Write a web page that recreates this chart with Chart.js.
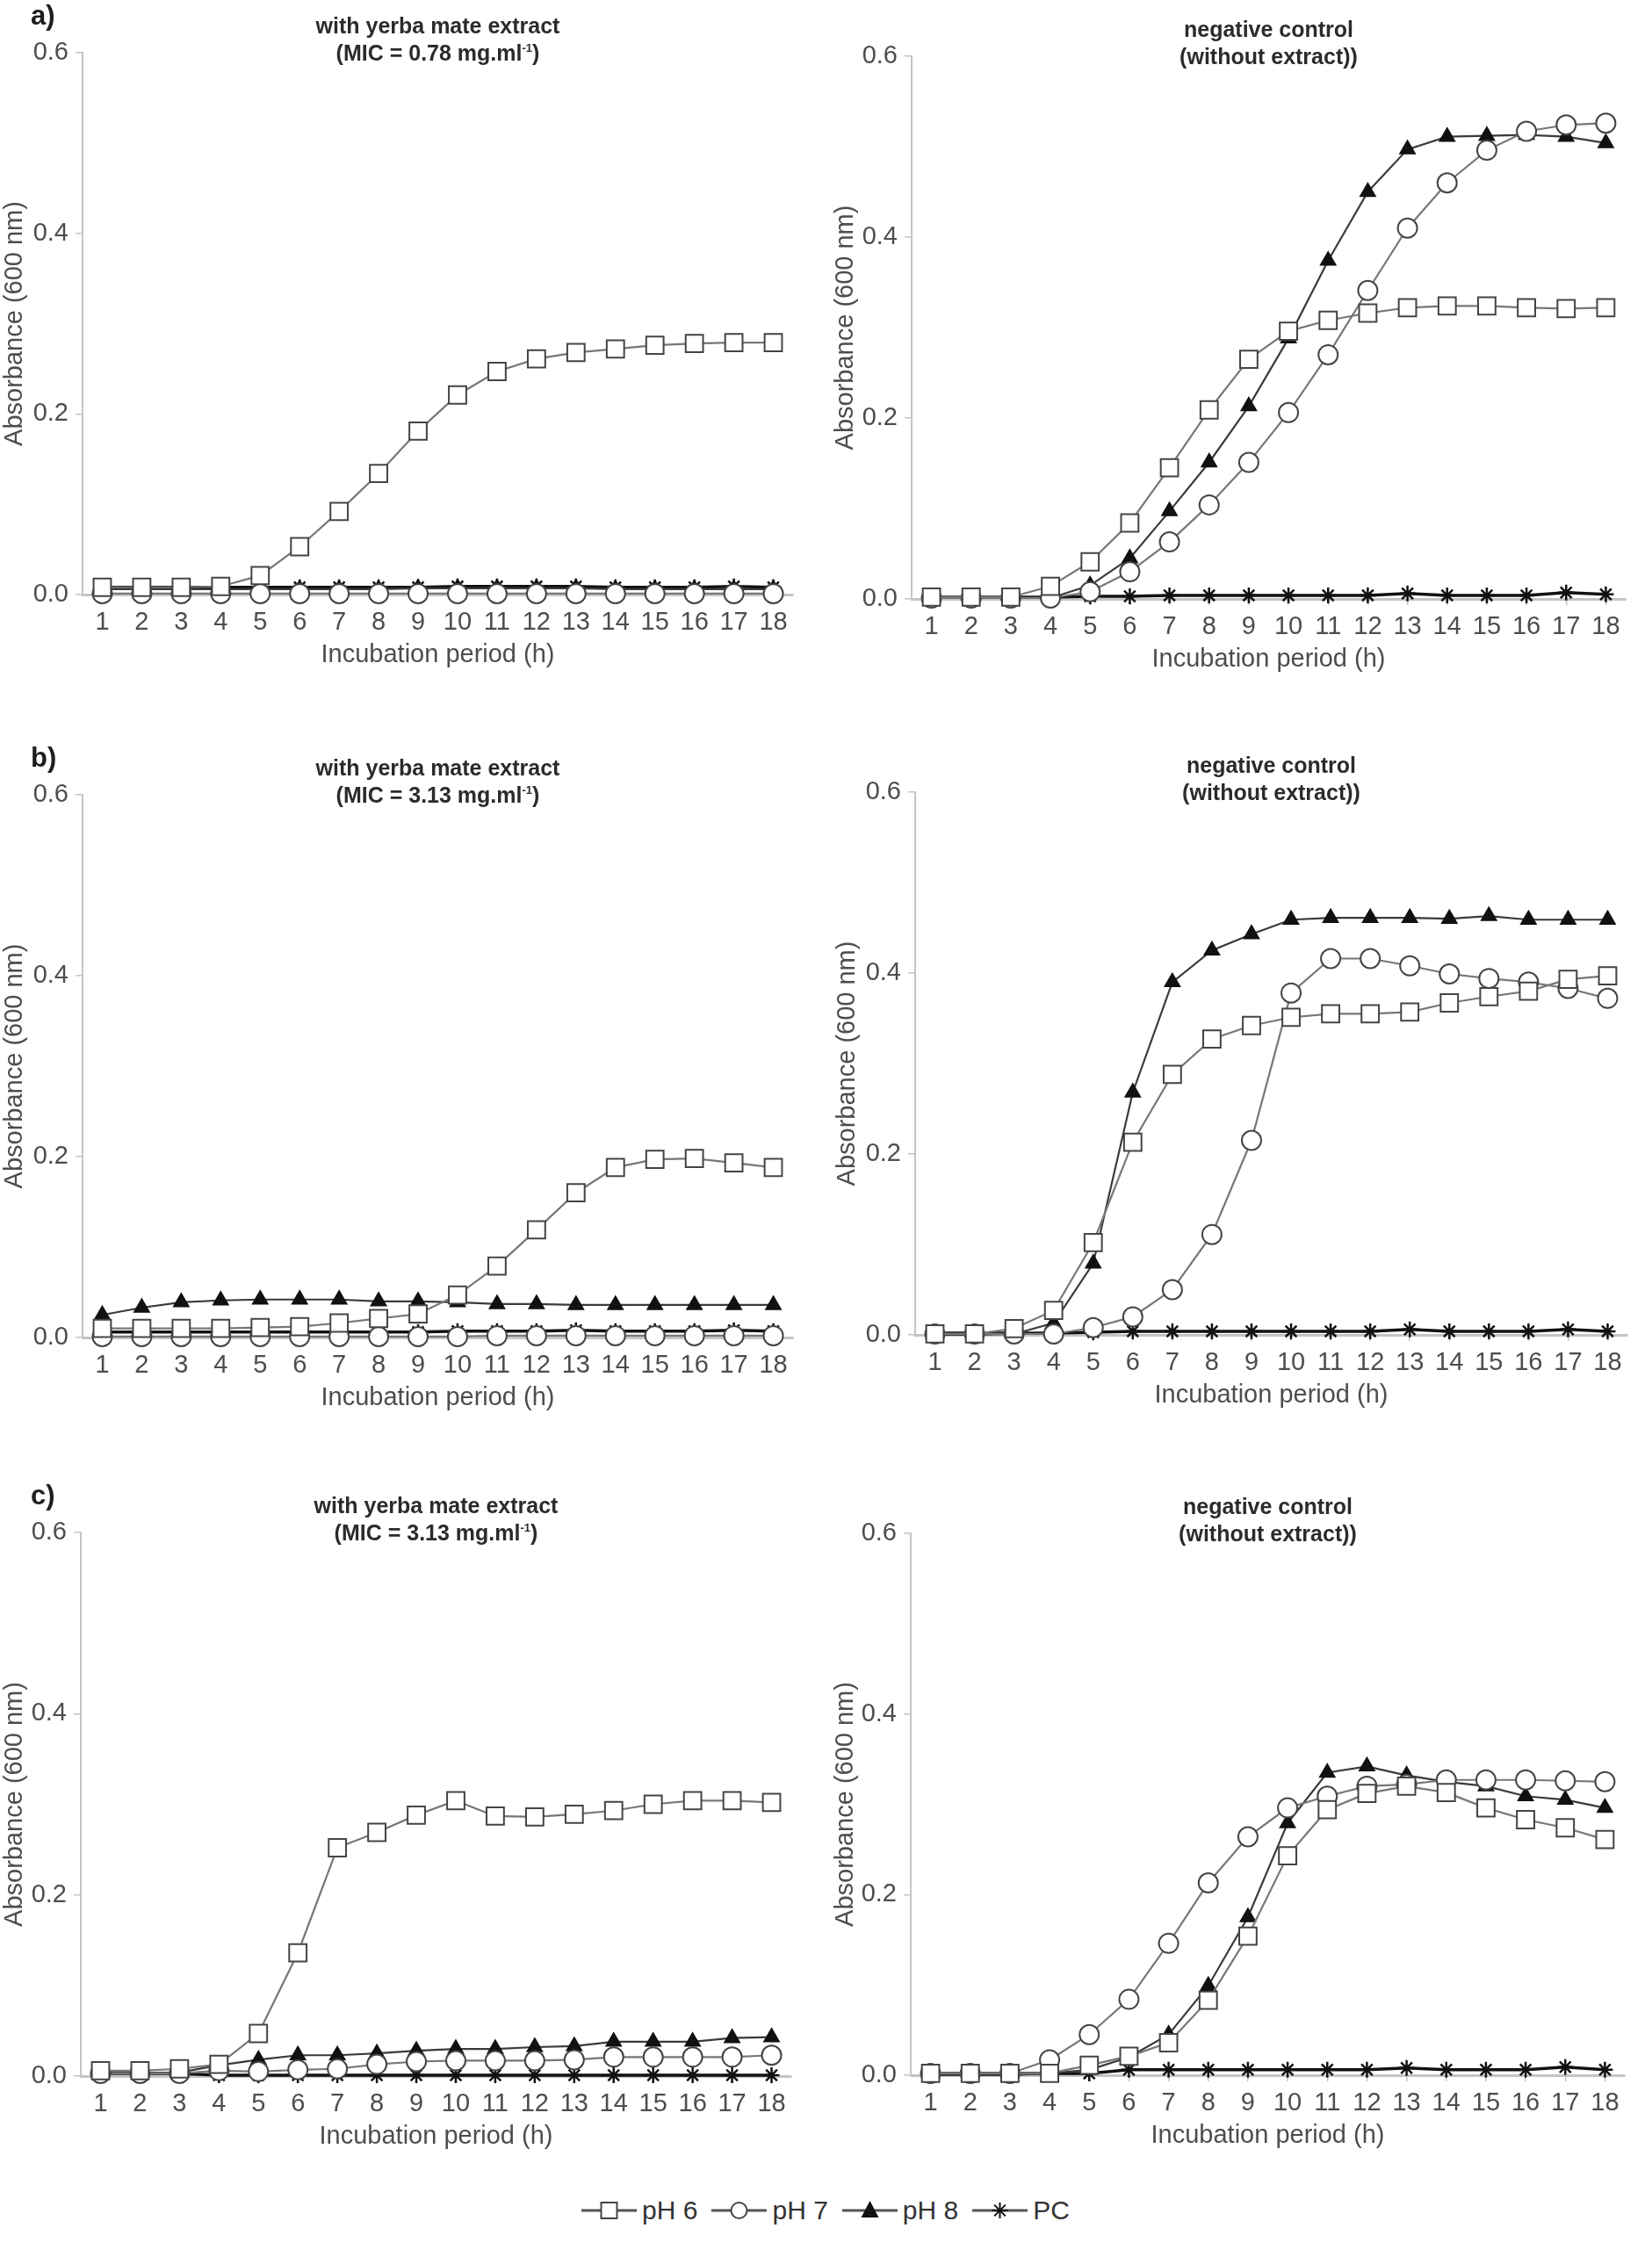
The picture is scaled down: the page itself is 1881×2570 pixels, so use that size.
<!DOCTYPE html>
<html>
<head>
<meta charset="utf-8">
<title>Growth curves with and without yerba mate extract</title>
<script src="https://cdn.jsdelivr.net/npm/chart.js@4.4.1/dist/chart.umd.min.js"></script>
<style>
    html, body { margin: 0; padding: 0; background: #fff; }
    #figure { position: relative; width: 1881px; height: 2570px; overflow: hidden; font-family: 'Liberation Sans', Arial, sans-serif; }
    #figure canvas { position: absolute; }
    .title { position: absolute; width: 700px; text-align: center; font-weight: bold; font-size: 25px; line-height: 31px; color: #2b2b2b; }
    .title sup { font-size: 13px; vertical-align: 10px; line-height: 0; }
    .tag { position: absolute; font-weight: bold; font-size: 31px; line-height: 36px; color: #1e1e1e; }
    #legend { position: absolute; left: 0; top: 2497px; width: 1881px; display: flex; justify-content: center; align-items: center; padding-left: 15px; box-sizing: border-box; font-size: 30px; color: #333; }
    #legend .item { display: flex; align-items: center; margin-right: 16px; }
    #legend canvas { position: static; margin-right: 6px; }
</style>
</head>
<body>
<div id="figure">
    <div id="legend"></div>
</div>
<script>
const hours = ['1', '2', '3', '4', '5', '6', '7', '8', '9', '10', '11', '12', '13', '14', '15', '16', '17', '18'];
const yTicks = [0.0, 0.2, 0.4, 0.6];
const seriesNames = ['pH 6', 'pH 7', 'pH 8', 'PC'];

// a) with extract (MIC 0.78)
const aExtPH6 = [0.008, 0.008, 0.008, 0.009, 0.021, 0.053, 0.092, 0.134, 0.181, 0.221, 0.247, 0.261, 0.268, 0.272, 0.276, 0.278, 0.279, 0.279];
const aExtPH7 = [0.001, 0.001, 0.001, 0.001, 0.001, 0.001, 0.001, 0.001, 0.001, 0.001, 0.001, 0.001, 0.001, 0.001, 0.001, 0.001, 0.001, 0.001];
const aExtPH8 = [0.006, 0.006, 0.006, 0.006, 0.006, 0.006, 0.006, 0.006, 0.007, 0.007, 0.007, 0.007, 0.007, 0.006, 0.006, 0.006, 0.006, 0.006];
const aExtPC = [0.008, 0.008, 0.008, 0.008, 0.008, 0.008, 0.008, 0.008, 0.008, 0.009, 0.009, 0.009, 0.009, 0.008, 0.008, 0.008, 0.009, 0.008];
// a) negative control
const aCtrlPH6 = [0.002, 0.002, 0.002, 0.014, 0.041, 0.084, 0.145, 0.209, 0.265, 0.296, 0.308, 0.316, 0.322, 0.324, 0.324, 0.322, 0.321, 0.322];
const aCtrlPH7 = [0.001, 0.001, 0.001, 0.001, 0.008, 0.030, 0.063, 0.104, 0.151, 0.206, 0.270, 0.341, 0.410, 0.460, 0.496, 0.517, 0.524, 0.526];
const aCtrlPH8 = [0.001, 0.001, 0.001, 0.001, 0.015, 0.045, 0.097, 0.151, 0.213, 0.288, 0.374, 0.450, 0.497, 0.511, 0.512, 0.513, 0.511, 0.504];
const aCtrlPC = [0.002, 0.002, 0.002, 0.002, 0.003, 0.003, 0.004, 0.004, 0.004, 0.004, 0.004, 0.004, 0.006, 0.004, 0.004, 0.004, 0.007, 0.005];

// b) with extract (MIC 3.13)
const bExtPH6 = [0.010, 0.010, 0.010, 0.010, 0.011, 0.012, 0.016, 0.021, 0.026, 0.047, 0.079, 0.119, 0.160, 0.188, 0.197, 0.198, 0.193, 0.188];
const bExtPH7 = [0.001, 0.001, 0.001, 0.001, 0.001, 0.001, 0.001, 0.001, 0.001, 0.001, 0.002, 0.002, 0.002, 0.002, 0.002, 0.002, 0.002, 0.002];
const bExtPH8 = [0.025, 0.033, 0.039, 0.041, 0.042, 0.042, 0.042, 0.040, 0.040, 0.039, 0.037, 0.037, 0.036, 0.036, 0.036, 0.036, 0.036, 0.036];
const bExtPC = [0.006, 0.006, 0.006, 0.006, 0.006, 0.006, 0.006, 0.006, 0.006, 0.007, 0.007, 0.007, 0.008, 0.007, 0.007, 0.007, 0.008, 0.007];
// b) negative control
const bCtrlPH6 = [0.001, 0.001, 0.007, 0.027, 0.102, 0.213, 0.288, 0.327, 0.342, 0.351, 0.355, 0.355, 0.357, 0.367, 0.374, 0.380, 0.393, 0.397];
const bCtrlPH7 = [0.001, 0.001, 0.001, 0.001, 0.008, 0.020, 0.050, 0.111, 0.215, 0.378, 0.416, 0.416, 0.408, 0.399, 0.394, 0.390, 0.383, 0.372];
const bCtrlPH8 = [0.000, 0.000, 0.001, 0.013, 0.079, 0.268, 0.390, 0.425, 0.443, 0.459, 0.461, 0.461, 0.461, 0.460, 0.463, 0.459, 0.459, 0.459];
const bCtrlPC = [0.002, 0.002, 0.002, 0.002, 0.003, 0.004, 0.004, 0.004, 0.004, 0.004, 0.004, 0.004, 0.006, 0.004, 0.004, 0.004, 0.006, 0.004];

// c) with extract (MIC 3.13)
const cExtPH6 = [0.006, 0.006, 0.008, 0.013, 0.047, 0.136, 0.252, 0.269, 0.288, 0.304, 0.287, 0.286, 0.289, 0.293, 0.300, 0.304, 0.304, 0.302];
const cExtPH7 = [0.003, 0.003, 0.003, 0.006, 0.005, 0.007, 0.008, 0.013, 0.016, 0.017, 0.017, 0.017, 0.018, 0.021, 0.021, 0.021, 0.021, 0.023];
const cExtPH8 = [0.003, 0.003, 0.004, 0.012, 0.018, 0.023, 0.023, 0.025, 0.028, 0.030, 0.030, 0.032, 0.033, 0.038, 0.038, 0.038, 0.042, 0.043];
const cExtPC = [0.003, 0.003, 0.003, 0.001, 0.001, 0.001, 0.001, 0.001, 0.001, 0.001, 0.001, 0.001, 0.001, 0.001, 0.001, 0.001, 0.001, 0.001];
// c) negative control
const cCtrlPH6 = [0.002, 0.002, 0.002, 0.002, 0.011, 0.021, 0.036, 0.083, 0.154, 0.243, 0.294, 0.312, 0.320, 0.313, 0.296, 0.283, 0.274, 0.261];
const cCtrlPH7 = [0.002, 0.002, 0.002, 0.017, 0.045, 0.084, 0.146, 0.213, 0.264, 0.296, 0.309, 0.320, 0.322, 0.327, 0.327, 0.327, 0.326, 0.325];
const cCtrlPH8 = [0.000, 0.000, 0.000, 0.002, 0.006, 0.020, 0.045, 0.099, 0.175, 0.279, 0.335, 0.342, 0.332, 0.325, 0.320, 0.309, 0.305, 0.296];
const cCtrlPC = [0.002, 0.002, 0.002, 0.002, 0.002, 0.006, 0.006, 0.006, 0.006, 0.006, 0.006, 0.006, 0.008, 0.006, 0.006, 0.006, 0.009, 0.006];

const FONT = "'Liberation Sans', Arial, sans-serif";
const TEXT_GREY = '#4d4d4d';
const AXIS_GREY = '#c4c4c4';
const X_AXIS_HEIGHT = 90;

// marker / line look for pH 6, pH 7, pH 8, PC
const seriesStyles = [
    { pointStyle: 'rect', radius: 14, line: '#777777', lineWidth: 2.2, fill: '#ffffff', edge: '#444444', edgeWidth: 2 },
    { pointStyle: 'circle', radius: 11, line: '#777777', lineWidth: 2.2, fill: '#ffffff', edge: '#444444', edgeWidth: 2 },
    { pointStyle: 'triangle', radius: 10, line: '#3a3a3a', lineWidth: 2.2, fill: '#111111', edge: '#111111', edgeWidth: 1.5 },
    { pointStyle: 'star', radius: 9, line: '#111111', lineWidth: 3.5, fill: '#111111', edge: '#111111', edgeWidth: 2.5 }
];

const extTitle = (mic) => 'with yerba mate extract<br>(MIC = ' + mic + ' mg.ml<sup>-1</sup>)';
const ctrlTitle = 'negative control<br>(without extract))';

const panels = [
    { tag: 'a)', title: extTitle('0.78'), series: [aExtPH6, aExtPH7, aExtPH8, aExtPC],
      left: 0, width: 940, top: 0, plotLeft: 94, plotRight: 903, plotTop: 60, plotBottom: 677, yTitlePad: 0 },
    { title: ctrlTitle, series: [aCtrlPH6, aCtrlPH7, aCtrlPH8, aCtrlPC],
      left: 940, width: 941, top: 0, plotLeft: 1038, plotRight: 1851, plotTop: 64, plotBottom: 682, yTitlePad: 6 },
    { tag: 'b)', title: extTitle('3.13'), series: [bExtPH6, bExtPH7, bExtPH8, bExtPC],
      left: 0, width: 940, top: 830, plotLeft: 94, plotRight: 903, plotTop: 905, plotBottom: 1523, yTitlePad: 0 },
    { title: ctrlTitle, series: [bCtrlPH6, bCtrlPH7, bCtrlPH8, bCtrlPC],
      left: 940, width: 941, top: 830, plotLeft: 1042, plotRight: 1853, plotTop: 902, plotBottom: 1520, yTitlePad: 8 },
    { tag: 'c)', title: extTitle('3.13'), series: [cExtPH6, cExtPH7, cExtPH8, cExtPC],
      left: 0, width: 940, top: 1670, plotLeft: 92, plotRight: 901, plotTop: 1745, plotBottom: 2364, yTitlePad: 0 },
    { title: ctrlTitle, series: [cCtrlPH6, cCtrlPH7, cCtrlPH8, cCtrlPC],
      left: 940, width: 941, top: 1670, plotLeft: 1037, plotRight: 1850, plotTop: 1746, plotBottom: 2363, yTitlePad: 6 }
];

const figure = document.getElementById('figure');

function buildDatasets(series) {
    return series.map((values, i) => {
        const st = seriesStyles[i];
        return {
            label: seriesNames[i],
            data: values,
            borderColor: st.line,
            borderWidth: st.lineWidth,
            tension: 0,
            clip: false,
            pointStyle: st.pointStyle,
            pointRadius: st.radius,
            pointBackgroundColor: st.fill,
            pointBorderColor: st.edge,
            pointBorderWidth: st.edgeWidth
        };
    });
}

function addPanel(p) {
    const height = p.plotBottom - p.top + X_AXIS_HEIGHT + 10;
    const canvas = document.createElement('canvas');
    canvas.width = p.width;
    canvas.height = height;
    canvas.style.left = p.left + 'px';
    canvas.style.top = p.top + 'px';
    figure.appendChild(canvas);

    const title = document.createElement('div');
    title.className = 'title';
    title.innerHTML = p.title;
    title.style.left = ((p.plotLeft + p.plotRight) / 2 - 350) + 'px';
    title.style.top = (p.plotTop - 46) + 'px';
    figure.appendChild(title);

    if (p.tag) {
        const tag = document.createElement('div');
        tag.className = 'tag';
        tag.textContent = p.tag;
        tag.style.left = '35px';
        tag.style.top = (p.plotTop - 60) + 'px';
        figure.appendChild(tag);
    }

    const tickFont = { family: FONT, size: 29 };

    return new Chart(canvas, {
        type: 'line',
        data: { labels: hours, datasets: buildDatasets(p.series) },
        options: {
            responsive: false,
            animation: false,
            devicePixelRatio: 1,
            layout: {
                padding: {
                    top: p.plotTop - p.top,
                    right: p.left + p.width - p.plotRight,
                    bottom: 10,
                    left: 0
                }
            },
            plugins: {
                legend: { display: false },
                tooltip: { enabled: false }
            },
            scales: {
                x: {
                    type: 'category',
                    offset: true,
                    grid: { display: true, drawOnChartArea: false, drawTicks: true, tickLength: 7, color: AXIS_GREY, lineWidth: 1.5 },
                    border: { display: true, color: AXIS_GREY, width: 3 },
                    ticks: { color: TEXT_GREY, font: tickFont, padding: 8, maxRotation: 0, autoSkip: false },
                    title: { display: true, text: 'Incubation period (h)', color: TEXT_GREY, font: tickFont, padding: { top: 0, bottom: 4 } },
                    afterFit: (scale) => { scale.height = X_AXIS_HEIGHT; }
                },
                y: {
                    min: 0,
                    max: 0.6,
                    afterBuildTicks: (scale) => { scale.ticks = yTicks.map((v) => ({ value: v })); },
                    grid: { display: true, drawOnChartArea: false, drawTicks: true, tickLength: 8, color: AXIS_GREY, lineWidth: 1.5 },
                    border: { display: true, color: AXIS_GREY, width: 2 },
                    ticks: { color: TEXT_GREY, font: tickFont, padding: 8, callback: (v) => Number(v).toFixed(1) },
                    title: { display: true, text: 'Absorbance (600 nm)', color: TEXT_GREY, font: tickFont, padding: { top: p.yTitlePad, bottom: 0 } },
                    afterFit: (scale) => { scale.width = p.plotLeft - p.left; }
                }
            }
        }
    });
}

panels.forEach(addPanel);

// shared legend below the panels: line sample with marker, then the name
function drawSample(canvas, st) {
    const ctx = canvas.getContext('2d');
    const w = canvas.width;
    const y = canvas.height / 2;
    const cx = w / 2;
    ctx.strokeStyle = '#555';
    ctx.lineWidth = 3;
    ctx.beginPath();
    ctx.moveTo(0, y);
    ctx.lineTo(w, y);
    ctx.stroke();
    ctx.lineWidth = 2;
    ctx.strokeStyle = st.edge;
    ctx.fillStyle = st.fill;
    ctx.beginPath();
    if (st.pointStyle === 'rect') {
        ctx.rect(cx - 9, y - 9, 18, 18);
        ctx.fill();
        ctx.stroke();
    } else if (st.pointStyle === 'circle') {
        ctx.arc(cx, y, 9, 0, Math.PI * 2);
        ctx.fill();
        ctx.stroke();
    } else if (st.pointStyle === 'triangle') {
        ctx.moveTo(cx, y - 11);
        ctx.lineTo(cx + 10, y + 8);
        ctx.lineTo(cx - 10, y + 8);
        ctx.closePath();
        ctx.fill();
    } else {
        for (let k = 0; k < 4; k++) {
            const a = k * Math.PI / 4;
            ctx.moveTo(cx - 9 * Math.cos(a), y - 9 * Math.sin(a));
            ctx.lineTo(cx + 9 * Math.cos(a), y + 9 * Math.sin(a));
        }
        ctx.stroke();
    }
}

const legend = document.getElementById('legend');
seriesNames.forEach((name, i) => {
    const item = document.createElement('div');
    item.className = 'item';
    const sample = document.createElement('canvas');
    sample.width = 63;
    sample.height = 40;
    drawSample(sample, seriesStyles[i]);
    const label = document.createElement('span');
    label.textContent = name;
    item.appendChild(sample);
    item.appendChild(label);
    legend.appendChild(item);
});
</script>
</body>
</html>
